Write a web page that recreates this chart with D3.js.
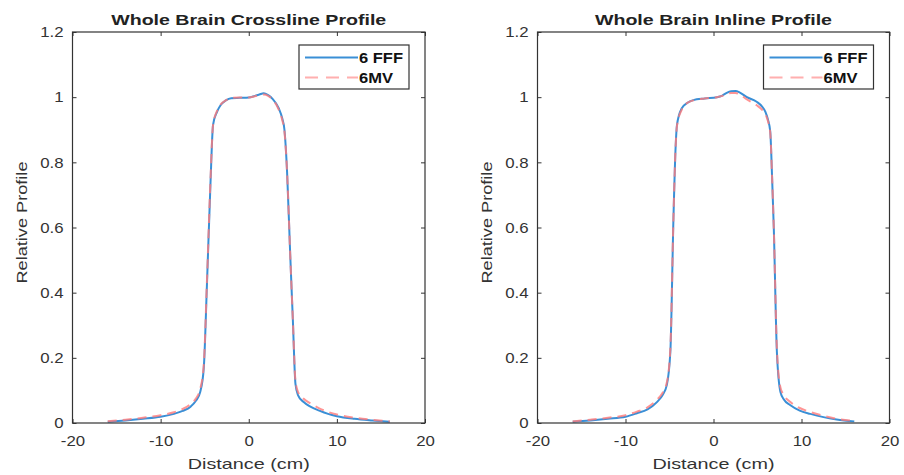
<!DOCTYPE html>
<html>
<head>
<meta charset="utf-8">
<script src="https://cdn.jsdelivr.net/npm/d3@7"></script>
<style>
  body { margin: 0; background: #fff; }
  svg { display: block; font-family: "Liberation Sans", Arial, sans-serif; }
</style>
</head>
<body>
<svg id="chart"></svg>
<script>
// tick labels
const xTicks = [-20, -10, 0, 10, 20];
const yTicks = [0, 0.2, 0.4, 0.6, 0.8, 1, 1.2];
const seriesNames = ["6 FFF", "6MV"];

// crossline profile (distance in cm, relative dose)
const crossDistance = [-16, -14, -12, -10, -8.5, -7.5, -6.6, -6, -5.5, -5.1, -4.75, -4.35, -4.05, -3.6, -3.2, -2.6, -2, -1, 0, 0.7, 1.2, 1.7, 2.2, 2.7, 3.4, 3.8, 4.05, 4.35, 4.7, 5.0, 5.3, 5.6, 6.2, 7, 8, 9, 10, 12, 14, 16];
const crossFFF = [0.004, 0.008, 0.013, 0.019, 0.028, 0.037, 0.05, 0.068, 0.096, 0.17, 0.42, 0.73, 0.915, 0.955, 0.975, 0.99, 0.997, 0.998, 0.999, 1.004, 1.008, 1.012, 1.006, 0.995, 0.966, 0.935, 0.9, 0.77, 0.52, 0.32, 0.12, 0.085, 0.065, 0.05, 0.038, 0.028, 0.021, 0.013, 0.008, 0.004];
const cross6MV = [0.005, 0.01, 0.016, 0.024, 0.033, 0.043, 0.058, 0.075, 0.105, 0.18, 0.43, 0.74, 0.915, 0.958, 0.977, 0.99, 0.998, 0.999, 0.999, 1.003, 1.006, 1.008, 1.004, 0.993, 0.962, 0.93, 0.895, 0.77, 0.52, 0.32, 0.13, 0.095, 0.075, 0.06, 0.045, 0.034, 0.026, 0.016, 0.01, 0.005];

// inline profile
const inlineDistance = [-16, -14, -12, -10, -8.7, -7.5, -6.4, -5.8, -5.3, -4.9, -4.55, -4.3, -4.15, -3.6, -3, -2.3, -1, 0.4, 1, 1.5, 2, 2.5, 3, 3.8, 4.9, 5.5, 5.9, 6.2, 6.45, 6.65, 6.85, 7.2, 7.6, 8, 8.7, 9.8, 11, 12.5, 14, 16];
const inlineFFF = [0.004, 0.008, 0.013, 0.019, 0.03, 0.042, 0.065, 0.085, 0.117, 0.22, 0.63, 0.85, 0.915, 0.966, 0.982, 0.991, 0.996, 1.0, 1.005, 1.013, 1.018, 1.019, 1.014, 1.0, 0.986, 0.972, 0.955, 0.93, 0.894, 0.76, 0.6, 0.22, 0.096, 0.072, 0.055, 0.038, 0.028, 0.018, 0.011, 0.005];
const inline6MV = [0.005, 0.01, 0.016, 0.024, 0.035, 0.048, 0.072, 0.092, 0.125, 0.23, 0.63, 0.85, 0.912, 0.962, 0.982, 0.99, 0.996, 1.0, 1.004, 1.01, 1.013, 1.013, 1.008, 0.993, 0.975, 0.962, 0.948, 0.925, 0.89, 0.76, 0.6, 0.23, 0.11, 0.085, 0.065, 0.046, 0.034, 0.022, 0.013, 0.006];

const width = 904;
const height = 475;

const blue = "#3a8fd6";
const pink = "#ff7a7a";

const panels = [
  { title: "Whole Brain Crossline Profile", titleLen: 275, left: 72.5, right: 425, x: crossDistance, fff: crossFFF, mv: cross6MV },
  { title: "Whole Brain Inline Profile", titleLen: 237, left: 537.5, right: 889.5, x: inlineDistance, fff: inlineFFF, mv: inline6MV }
];
const plotTop = 32, plotBottom = 423;

const svg = d3.select("#chart").attr("width", width).attr("height", height);
svg.append("rect").attr("width", width).attr("height", height).attr("fill", "#fff");

// MATLAB text looks a bit wider than Liberation Sans
function widen(sel, k) {
  sel.each(function () {
    const w = this.getComputedTextLength();
    d3.select(this).attr("textLength", w * k).attr("lengthAdjust", "spacingAndGlyphs");
  });
}

panels.forEach(p => {
  const x = d3.scaleLinear().domain([-20, 20]).range([p.left, p.right]);
  const y = d3.scaleLinear().domain([0, 1.2]).range([plotBottom, plotTop]);
  const g = svg.append("g");

  const line = d3.line().x(d => x(d[0])).y(d => y(d[1])).curve(d3.curveMonotoneX);

  g.append("path")
    .datum(p.x.map((d, i) => [d, p.fff[i]]))
    .attr("d", line)
    .attr("fill", "none")
    .attr("stroke", blue)
    .attr("stroke-width", 2);

  g.append("path")
    .datum(p.x.map((d, i) => [d, p.mv[i]]))
    .attr("d", line)
    .attr("fill", "none")
    .attr("stroke", pink)
    .attr("stroke-opacity", 0.8)
    .attr("stroke-width", 2)
    .attr("stroke-dasharray", "9,6");

  // axes, ticks pointing inward (plain hyphen for negatives, like MATLAB)
  const bx = g.append("g")
    .attr("transform", `translate(0,${plotBottom})`)
    .call(d3.axisBottom(x).tickValues(xTicks).tickFormat(d => String(d)).tickSizeInner(-4).tickSizeOuter(0).tickPadding(12));
  const ly = g.append("g")
    .attr("transform", `translate(${p.left},0)`)
    .call(d3.axisLeft(y).tickValues(yTicks).tickFormat(d => String(d)).tickSizeInner(-4).tickSizeOuter(0).tickPadding(9));
  g.append("g")
    .attr("transform", `translate(0,${plotTop})`)
    .call(d3.axisTop(x).tickValues(xTicks).tickFormat("").tickSizeInner(-4).tickSizeOuter(0));
  g.append("g")
    .attr("transform", `translate(${p.right},0)`)
    .call(d3.axisRight(y).tickValues(yTicks).tickFormat("").tickSizeInner(-4).tickSizeOuter(0));

  g.selectAll(".domain").remove();
  g.selectAll(".tick line").attr("stroke", "#333");
  g.selectAll(".tick text").attr("fill", "#333").style("font-size", "15px");
  widen(bx.selectAll("text"), 1.12);
  widen(ly.selectAll("text"), 1.12);

  g.append("rect")
    .attr("x", p.left).attr("y", plotTop)
    .attr("width", p.right - p.left).attr("height", plotBottom - plotTop)
    .attr("fill", "none").attr("stroke", "#333").attr("stroke-width", 1.2);

  const cx = (p.left + p.right) / 2;

  g.append("text")
    .attr("x", cx).attr("y", 25)
    .attr("text-anchor", "middle")
    .attr("fill", "#222")
    .style("font-size", "15px").style("font-weight", "bold")
    .attr("textLength", p.titleLen).attr("lengthAdjust", "spacingAndGlyphs")
    .text(p.title);

  g.append("text")
    .attr("x", cx).attr("y", 469)
    .attr("text-anchor", "middle")
    .attr("fill", "#333")
    .style("font-size", "15px")
    .attr("textLength", 122).attr("lengthAdjust", "spacingAndGlyphs")
    .text("Distance (cm)");

  g.append("text")
    .attr("transform", `translate(${p.left - 46},${(plotTop + plotBottom) / 2 - 5}) rotate(-90)`)
    .attr("text-anchor", "middle")
    .attr("fill", "#333")
    .style("font-size", "15px")
    .attr("textLength", 122).attr("lengthAdjust", "spacingAndGlyphs")
    .text("Relative Profile");

  // legend
  const lx = p.right - 126, ly0 = 45;
  const leg = g.append("g").attr("transform", `translate(${lx},${ly0})`);
  leg.append("rect")
    .attr("width", 110).attr("height", 44)
    .attr("fill", "#fff").attr("stroke", "#333").attr("stroke-width", 1.2);
  seriesNames.forEach((name, i) => {
    const yy = 12.5 + i * 20;
    leg.append("line")
      .attr("x1", 6).attr("x2", 59).attr("y1", yy).attr("y2", yy)
      .attr("stroke", i === 0 ? blue : pink)
      .attr("stroke-opacity", i === 0 ? 1 : 0.6)
      .attr("stroke-width", 2)
      .attr("stroke-dasharray", i === 0 ? null : "13,8");
    leg.append("text")
      .attr("x", 60).attr("y", yy + 5)
      .attr("fill", "#111")
      .style("font-size", "14px")
      .style("font-weight", "bold")
      .attr("textLength", i === 0 ? 44 : 34).attr("lengthAdjust", "spacingAndGlyphs")
      .text(name);
  });
});
</script>
</body>
</html>
